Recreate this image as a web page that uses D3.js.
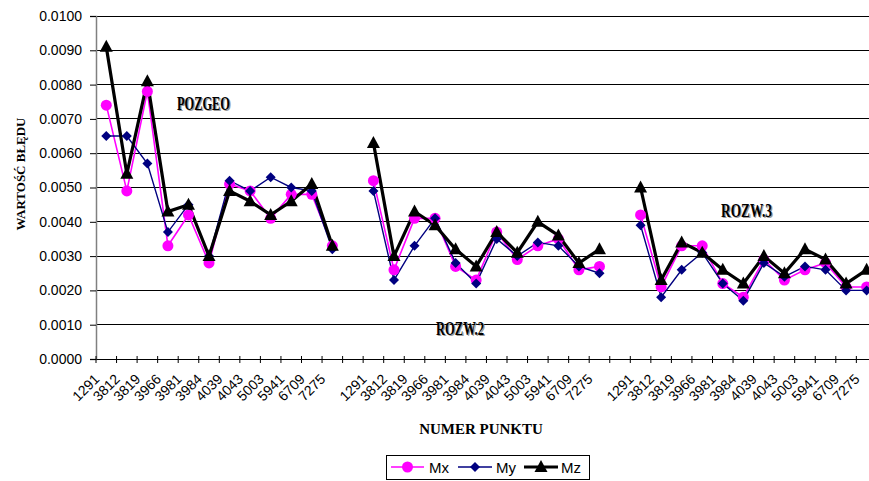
<!DOCTYPE html>
<html>
<head>
<meta charset="utf-8">
<script src="https://cdn.jsdelivr.net/npm/d3@7"></script>
<style>
  html, body { margin: 0; padding: 0; background: #fff; }
  svg { display: block; }
</style>
</head>
<body>
<svg id="chart" width="869" height="481"></svg>
<script>
// ---- data ----
const points = ["1291","3812","3819","3966","3981","3984","4039","4043","5003","5941","6709","7275"];
const groups = ["POZGEO", "ROZW.2", "ROZW.3"];
const tickLabels = [...points, "", ...points, "", ...points];

const mxValues = [
  0.0074, 0.0049, 0.0078, 0.0033, 0.0042, 0.0028, 0.0051, 0.0049, 0.0041, 0.0048, 0.0048, 0.0033,
  null,
  0.0052, 0.0026, 0.0041, 0.0041, 0.0027, 0.0023, 0.0037, 0.0029, 0.0033, 0.0035, 0.0026, 0.0027,
  null,
  0.0042, 0.0021, 0.0033, 0.0033, 0.0022, 0.0018, 0.0029, 0.0023, 0.0026, 0.0028, 0.0021, 0.0021
];
const myValues = [
  0.0065, 0.0065, 0.0057, 0.0037, 0.0045, 0.0030, 0.0052, 0.0049, 0.0053, 0.0050, 0.0049, 0.0032,
  null,
  0.0049, 0.0023, 0.0033, 0.0041, 0.0028, 0.0022, 0.0035, 0.0030, 0.0034, 0.0033, 0.0027, 0.0025,
  null,
  0.0039, 0.0018, 0.0026, 0.0031, 0.0022, 0.0017, 0.0028, 0.0024, 0.0027, 0.0026, 0.0020, 0.0020
];
const mzValues = [
  0.0091, 0.0054, 0.0081, 0.0043, 0.0045, 0.0030, 0.0049, 0.0046, 0.0042, 0.0046, 0.0051, 0.0033,
  null,
  0.0063, 0.0030, 0.0043, 0.0039, 0.0032, 0.0027, 0.0037, 0.0031, 0.0040, 0.0036, 0.0028, 0.0032,
  null,
  0.0050, 0.0023, 0.0034, 0.0031, 0.0026, 0.0022, 0.0030, 0.0025, 0.0032, 0.0029, 0.0022, 0.0026
];
const yTicks = [0, 0.001, 0.002, 0.003, 0.004, 0.005, 0.006, 0.007, 0.008, 0.009, 0.010];

const series = [
  { name: "Mx", values: mxValues, color: "#ff00ff", width: 1.6, marker: "circle" },
  { name: "My", values: myValues, color: "#000080", width: 1.4, marker: "diamond" },
  { name: "Mz", values: mzValues, color: "#000000", width: 3.2, marker: "triangle" }
];

// ---- layout ----
const svg = d3.select("#chart");
const plotLeft = 96, plotTop = 16, plotBottom = 359;
const step = 20.55;
const n = tickLabels.length;

const x = d3.scaleBand().domain(d3.range(n)).range([plotLeft, plotLeft + n * step]).padding(0);
const y = d3.scaleLinear().domain([0, 0.01]).range([plotBottom, plotTop]);
const cx = i => x(i) + x.bandwidth() / 2;

const sans = "'Liberation Sans', Arial, sans-serif";
const serif = "'Liberation Serif', 'Times New Roman', serif";

// gridlines
svg.append("g").selectAll("line").data(yTicks.filter(t => t > 0)).join("line")
  .attr("x1", plotLeft).attr("x2", 869)
  .attr("y1", d => y(d)).attr("y2", d => y(d))
  .attr("stroke", "#000").attr("stroke-width", 1).attr("shape-rendering", "crispEdges");

// y axis
const yAxis = svg.append("g").attr("transform", `translate(${plotLeft},0)`)
  .call(d3.axisLeft(y).tickValues(yTicks).tickFormat(d3.format(".4f")).tickSize(6).tickPadding(8));
yAxis.select(".domain").attr("stroke", "#808080").attr("stroke-width", 1.5);
yAxis.selectAll(".tick line").attr("stroke", "#000");
yAxis.selectAll(".tick text").attr("font-family", sans).attr("font-size", 14).attr("fill", "#000");

// x axis
const xAxis = svg.append("g").attr("transform", `translate(0,${plotBottom})`)
  .call(d3.axisBottom(x).tickFormat(() => "").tickSize(0));
xAxis.select(".domain").attr("stroke", "#000");
xAxis.selectAll(".tick").remove();
// tick marks at band boundaries (cross)
svg.append("g").selectAll("line").data(d3.range(n + 1)).join("line")
  .attr("x1", i => plotLeft + i * step).attr("x2", i => plotLeft + i * step)
  .attr("y1", plotBottom - 3).attr("y2", plotBottom + 4)
  .attr("stroke", "#000").attr("stroke-width", 1);
// tick labels
svg.append("g").selectAll("text").data(tickLabels.map((t, i) => ({ t, i })).filter(d => d.t)).join("text")
  .attr("transform", d => `translate(${cx(d.i) - 6},${plotBottom + 21}) rotate(-45)`)
  .attr("text-anchor", "end")
  .attr("font-family", sans).attr("font-size", 14).attr("fill", "#000")
  .text(d => d.t);

// lines
const line = d3.line().defined(d => d.v != null).x(d => cx(d.i)).y(d => y(d.v));
series.forEach(s => {
  const pts = s.values.map((v, i) => ({ v, i }));
  svg.append("path").datum(pts)
    .attr("d", line).attr("fill", "none")
    .attr("stroke", s.color).attr("stroke-width", s.width).attr("stroke-linejoin", "miter");
});

function drawMarker(g, type, color, px, py) {
  if (type === "circle") {
    g.append("circle").attr("cx", px).attr("cy", py).attr("r", 5.5).attr("fill", color);
  } else if (type === "diamond") {
    g.append("path").attr("d", `M${px},${py - 5}L${px + 5},${py}L${px},${py + 5}L${px - 5},${py}Z`).attr("fill", color);
  } else {
    g.append("path").attr("d", `M${px},${py - 7}L${px + 6.5},${py + 5}L${px - 6.5},${py + 5}Z`).attr("fill", color);
  }
}
series.forEach(s => {
  const g = svg.append("g");
  s.values.forEach((v, i) => { if (v != null) drawMarker(g, s.marker, s.color, cx(i), y(v)); });
});

// group labels (embossed)
const groupPos = [
  { label: groups[0], x: 177, y: 110, len: 53 },
  { label: groups[1], x: 436, y: 335, len: 48 },
  { label: groups[2], x: 721, y: 217, len: 51 }
];
groupPos.forEach(p => {
  [["#9a9a9a", 1.2], ["#000", 0]].forEach(([c, off]) => {
    svg.append("text").attr("x", p.x + off).attr("y", p.y + off)
      .attr("font-family", serif).attr("font-weight", "bold").attr("font-size", 19)
      .attr("textLength", p.len).attr("lengthAdjust", "spacingAndGlyphs")
      .attr("fill", c).text(p.label);
  });
});

// axis titles
svg.append("text").attr("transform", "translate(25,174) rotate(-90)")
  .attr("text-anchor", "middle").attr("font-family", serif).attr("font-weight", "bold")
  .attr("font-size", 13).attr("textLength", 113).attr("lengthAdjust", "spacingAndGlyphs")
  .text("WARTOŚĆ BŁĘDU");
svg.append("text").attr("x", 481).attr("y", 434)
  .attr("text-anchor", "middle").attr("font-family", serif).attr("font-weight", "bold")
  .attr("font-size", 15).text("NUMER PUNKTU");

// legend
const lg = svg.append("g");
lg.append("rect").attr("x", 386.5).attr("y", 455.5).attr("width", 203).attr("height", 24)
  .attr("fill", "#fff").attr("stroke", "#000").attr("stroke-width", 1);
const legendItems = [
  { s: series[0], x1: 391, x2: 424, tx: 429 },
  { s: series[1], x1: 458, x2: 492, tx: 496 },
  { s: series[2], x1: 524, x2: 558, tx: 561 }
];
legendItems.forEach(it => {
  const ly = 467;
  lg.append("line").attr("x1", it.x1).attr("x2", it.x2).attr("y1", ly).attr("y2", ly)
    .attr("stroke", it.s.color).attr("stroke-width", it.s.width);
  drawMarker(lg, it.s.marker, it.s.color, (it.x1 + it.x2) / 2, ly);
  lg.append("text").attr("x", it.tx).attr("y", 473)
    .attr("font-family", sans).attr("font-size", 15).attr("fill", "#000").text(it.s.name);
});
</script>
</body>
</html>
